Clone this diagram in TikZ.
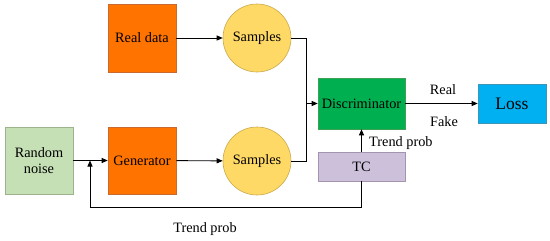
\documentclass[tikz,border=0pt]{standalone}
\usepackage{fontspec}
\setmainfont{Liberation Serif}
\usetikzlibrary{arrows.meta}
\definecolor{orangefill}{HTML}{FF7300}
\definecolor{orangeline}{HTML}{C96A2E}
\definecolor{yellowfill}{HTML}{FFD966}
\definecolor{yellowline}{HTML}{C9A84A}
\definecolor{noisefill}{HTML}{C5E0B4}
\definecolor{noiseline}{HTML}{9DB38C}
\definecolor{discfill}{HTML}{00B050}
\definecolor{discline}{HTML}{3E9F55}
\definecolor{lossfill}{HTML}{00B0F0}
\definecolor{lossline}{HTML}{3E95B8}
\definecolor{tcfill}{HTML}{CCC0DA}
\definecolor{tcline}{HTML}{A395B2}
\tikzset{
  base/.style={inner sep=0pt, font=\fontsize{14.3}{16}\selectfont, align=center, line width=0.6pt},
  obox/.style={base, rectangle, fill=orangefill, draw=orangeline, minimum width=68pt, minimum height=68pt},
  samp/.style={base, circle, fill=yellowfill, draw=yellowline, minimum size=68pt},
  conn/.style={line width=0.9pt, -{Triangle[length=6pt,width=5pt]}},
  plain/.style={line width=0.9pt},
  lbl/.style={font=\fontsize{14.3}{16}\selectfont, inner sep=0pt}
}
\begin{document}
\begin{tikzpicture}[x=1pt,y=-1pt]
\useasboundingbox (0,0) rectangle (550,241);
\node[obox] (real) at (142,38) {Real data};
\node[samp] (s1) at (257,38) {Samples};
\node[base, rectangle, fill=noisefill, draw=noiseline, minimum width=68pt, minimum height=67pt] (noise) at (39,160.5) {Random\\noise};
\node[obox, minimum height=67pt] (gen) at (142,160.5) {Generator};
\node[samp] (s2) at (257,161) {Samples};
\node[base, rectangle, fill=discfill, draw=discline, minimum width=87pt, minimum height=51pt] (disc) at (361.5,103.5) {Discriminator};
\node[base, rectangle, fill=tcfill, draw=tcline, minimum width=87pt, minimum height=29pt] (tc) at (361.5,166.5) {TC};
\node[base, rectangle, fill=lossfill, draw=lossline, minimum width=68pt, minimum height=39pt, font=\fontsize{17.5}{20}\selectfont] (loss) at (512,103.5) {Loss};
\coordinate (merge) at (306,103.5);
\coordinate (junc) at (90,160.5);
\coordinate (fb) at (90,207);
\draw[conn] (real) -- (s1);
\draw[conn] (gen) -- (s2);
\draw[conn] (noise) -- (gen);
\draw[plain] (s1.east) -| (merge);
\draw[plain] (s2.east) -| (merge);
\draw[conn] (merge) -- (disc.west);
\draw[conn] (disc) -- (loss);
\node[lbl] (lreal) at (443,90) {Real};
\node[lbl] (lfake) at (444,122) {Fake};
\draw[conn] (tc) -- (disc);
\node[lbl, anchor=west] (tp1) at (369,143) {Trend prob};
\draw[conn] (tc.south) |- (fb) -- (junc);
\node[lbl] (tp) at (205,229) {Trend prob};
\end{tikzpicture}
\end{document}
